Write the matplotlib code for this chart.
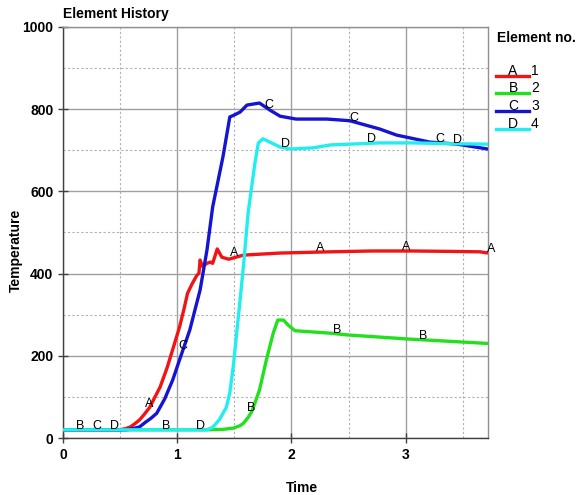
import numpy as np
import matplotlib
matplotlib.use("Agg")
import matplotlib.pyplot as plt
from matplotlib.lines import Line2D
from matplotlib.ticker import MultipleLocator

plt.rcParams['font.family'] = ['Liberation Sans', 'DejaVu Sans']

# ---- data ----
series_names = ["A", "B", "C", "D"]
legend_numbers = ["1", "2", "3", "4"]
colors = ["#f21414", "#22e01e", "#1414d2", "#22eef0"]

a_x = [0, 0.50, 0.55, 0.59, 0.63, 0.67, 0.71, 0.76, 0.80, 0.85, 0.91, 0.96, 1.02, 1.06, 1.09,
       1.13, 1.17, 1.19, 1.20, 1.22, 1.26, 1.29, 1.31, 1.35, 1.39, 1.45, 1.58, 1.90, 2.34,
       2.70, 3.06, 3.40, 3.65, 3.72]
a_y = [20, 20, 23, 27, 35, 44, 57, 75, 97, 124, 170, 215, 270, 315, 352,
       375, 395, 401, 433, 418, 425, 428, 425, 460, 440, 435, 445, 450, 453,
       455, 455, 454, 453, 450]

b_x = [0, 1.26, 1.40, 1.49, 1.55, 1.58, 1.62, 1.65, 1.68, 1.72, 1.78, 1.84, 1.88, 1.93,
       1.97, 2.03, 2.34, 2.48, 2.80, 3.01, 3.40, 3.72]
b_y = [20, 20, 21, 24, 30, 36, 50, 63, 85, 117, 190, 255, 287, 287,
       275, 261, 255, 251, 245, 241, 235, 230]

c_x = [0, 0.55, 0.60, 0.67, 0.72, 0.77, 0.82, 0.89, 0.96, 1.02, 1.11, 1.20, 1.26, 1.31,
       1.40, 1.46, 1.50, 1.55, 1.61, 1.72, 1.81, 1.90, 2.04, 2.31, 2.51, 2.77, 2.92,
       3.21, 3.45, 3.72]
c_y = [20, 20, 22, 27, 38, 48, 60, 95, 141, 190, 263, 360, 457, 562,
       684, 781, 786, 793, 810, 815, 798, 783, 776, 776, 772, 752, 737,
       720, 715, 703]

d_x = [0, 1.26, 1.31, 1.37, 1.43, 1.46, 1.49, 1.52, 1.55, 1.58, 1.62, 1.68, 1.71, 1.75,
       1.90, 1.99, 2.19, 2.34, 2.77, 3.06, 3.40, 3.72]
d_y = [20, 20, 26, 45, 75, 110, 173, 255, 336, 420, 547, 669, 718, 728,
       708, 703, 706, 713, 718, 718, 716, 715]

label_x = {
    "A": [0.75, 1.50, 2.25, 3.00, 3.75],
    "B": [0.15, 0.90, 1.65, 2.40, 3.15],
    "C": [0.30, 1.05, 1.80, 2.55, 3.30],
    "D": [0.45, 1.20, 1.95, 2.70, 3.45],
}

xs = [a_x, b_x, c_x, d_x]
ys = [a_y, b_y, c_y, d_y]

# ---- figure ----
fig = plt.figure(figsize=(5.79, 4.95), dpi=100)
ax = fig.add_axes([63/579, 1 - 438/495, (488-63)/579, (438-27)/495])

ax.set_xlim(0, 3.72)
ax.set_ylim(0, 1000)
ax.xaxis.set_major_locator(MultipleLocator(1))
ax.xaxis.set_minor_locator(MultipleLocator(0.5))
ax.yaxis.set_major_locator(MultipleLocator(200))
ax.yaxis.set_minor_locator(MultipleLocator(100))
ax.grid(which='major', color='#a0a0a0', linestyle='-', linewidth=1.0)
ax.grid(which='minor', color='#b0b0b0', linestyle=(0, (2, 2)), linewidth=0.8)
ax.set_axisbelow(True)

for s in ['left', 'bottom']:
    ax.spines[s].set_color('#404040')
    ax.spines[s].set_linewidth(1.0)
for s in ['right', 'top']:
    ax.spines[s].set_color('#909090')
    ax.spines[s].set_linewidth(1.0)

ax.tick_params(which='major', direction='inout', length=7, width=1, color='#404040',
               labelsize=10)
ax.tick_params(which='minor', length=0)
for lab in ax.get_xticklabels() + ax.get_yticklabels():
    lab.set_fontweight('bold')

for name, x, y, c in zip(series_names, xs, ys, colors):
    ax.plot(x, y, color=c, linewidth=2.4, solid_capstyle='butt',
            solid_joinstyle='round', zorder=3)

for name, x, y in zip(series_names, xs, ys):
    for lx in label_x[name]:
        ly = np.interp(lx, x, y)
        ax.annotate(name, (lx, ly), xytext=(0, 3), textcoords='offset points',
                    ha='center', va='center', fontsize=9, color='black',
                    zorder=4, annotation_clip=False)

fig.text(302/579, 1 - 488/495, "Time", fontsize=10, fontweight='bold',
         ha='center', va='center')
fig.text(16/579, 1 - 250/495, "Temperature", fontsize=10, fontweight='bold',
         ha='center', va='center', rotation=90)
fig.text(63/579, 1 - 14/495, "Element History", fontsize=10, fontweight='bold',
         ha='left', va='center')

# ---- legend ----
fig.text(497/579, 1 - 38/495, "Element no.", fontsize=10, fontweight='bold',
         ha='left', va='center')
leg_y = [76, 93, 111, 129]
for name, num, c, py in zip(series_names, legend_numbers, colors, leg_y):
    yy = 1 - py/495
    fig.add_artist(Line2D([496/579, 529/579], [yy, yy], color=c, linewidth=2.4,
                          transform=fig.transFigure))
    fig.text(513/579, 1 - (py - 5)/495, name, fontsize=10, ha='center', va='center')
    fig.text(531/579, 1 - (py - 5)/495, num, fontsize=10, ha='left', va='center')

fig.savefig("out.png", dpi=100)
